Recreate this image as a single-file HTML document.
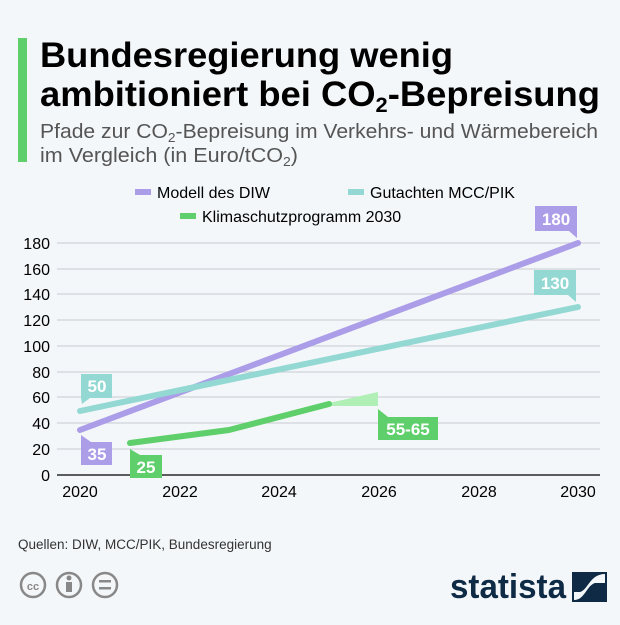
<!DOCTYPE html>
<html><head><meta charset="utf-8"><style>
html,body{margin:0;padding:0;background:#f4f7fa;}
body{width:620px;height:620px;overflow:hidden;font-family:"Liberation Sans","DejaVu Sans",sans-serif;}
</style></head><body>
<svg width="620" height="620" xmlns="http://www.w3.org/2000/svg" font-family="Liberation Sans, DejaVu Sans, sans-serif">
<rect width="620" height="620" fill="#f4f7fa"/>
<rect x="18" y="38" width="9" height="124" fill="#5ecf6a"/>
<text x="40" y="67" font-size="35" font-weight="bold" fill="#000" textLength="413" lengthAdjust="spacingAndGlyphs">Bundesregierung wenig</text>
<text x="40" y="106" font-size="35" font-weight="bold" fill="#000" textLength="560" lengthAdjust="spacingAndGlyphs">ambitioniert bei CO<tspan font-size="21" dy="6">2</tspan><tspan dy="-6">-Bepreisung</tspan></text>
<text x="40" y="138" font-size="20" fill="#555" textLength="558" lengthAdjust="spacingAndGlyphs">Pfade zur CO<tspan font-size="13" dy="4">2</tspan><tspan dy="-4">-Bepreisung im Verkehrs- und Wärmebereich</tspan></text>
<text x="40" y="162" font-size="20" fill="#555" textLength="258" lengthAdjust="spacingAndGlyphs">im Vergleich (in Euro/tCO<tspan font-size="13" dy="4">2</tspan><tspan dy="-4">)</tspan></text>
<!-- legend -->
<line x1="135" y1="192" x2="151" y2="192" stroke="#ab9de8" stroke-width="6"/>
<text x="157" y="198" font-size="16" fill="#000">Modell des DIW</text>
<line x1="348" y1="192" x2="364" y2="192" stroke="#93d8d2" stroke-width="6"/>
<text x="370" y="198" font-size="16" fill="#000">Gutachten MCC/PIK</text>
<line x1="180" y1="216" x2="196" y2="216" stroke="#5ecf6a" stroke-width="6"/>
<text x="202" y="222" font-size="16" fill="#000">Klimaschutzprogramm 2030</text>
<!-- grid -->
<g stroke="#cfd3d8" stroke-width="1.2">
<line x1="57" x2="600" y1="449" y2="449"/><line x1="57" x2="600" y1="423" y2="423"/>
<line x1="57" x2="600" y1="397" y2="397"/><line x1="57" x2="600" y1="372" y2="372"/>
<line x1="57" x2="600" y1="346" y2="346"/><line x1="57" x2="600" y1="320" y2="320"/>
<line x1="57" x2="600" y1="294" y2="294"/><line x1="57" x2="600" y1="269" y2="269"/>
<line x1="57" x2="600" y1="243" y2="243"/>
</g>
<line x1="57" x2="600" y1="475" y2="475" stroke="#000" stroke-width="1.2"/>
<g font-size="16" fill="#000" text-anchor="end">
<text x="50" y="481">0</text><text x="50" y="455">20</text><text x="50" y="429">40</text>
<text x="50" y="403">60</text><text x="50" y="378">80</text><text x="50" y="352">100</text>
<text x="50" y="326">120</text><text x="50" y="300">140</text><text x="50" y="275">160</text>
<text x="50" y="249">180</text>
</g>
<g font-size="16" fill="#000" text-anchor="middle">
<text x="80" y="497">2020</text><text x="180" y="497">2022</text><text x="279" y="497">2024</text>
<text x="379" y="497">2026</text><text x="479" y="497">2028</text><text x="578" y="497">2030</text>
</g>
<!-- series -->
<polygon points="329,403 378,392 378,406 329,406" fill="#b0efb5"/>
<line x1="80" y1="430" x2="578" y2="243" stroke="#ab9de8" stroke-width="6" stroke-linecap="round"/>
<line x1="80" y1="411" x2="578" y2="307" stroke="#93d8d2" stroke-width="6" stroke-linecap="round"/>
<polyline points="130,443 229,430 329,404" fill="none" stroke="#5ecf6a" stroke-width="6" stroke-linecap="round" stroke-linejoin="round"/>
<!-- labels -->
<g font-size="17" font-weight="bold" fill="#fff" text-anchor="middle">
<polygon points="81,374 112,374 112,398 90,398 82,404 81,398" fill="#93d8d2"/>
<text x="97" y="392">50</text>
<polygon points="81,435 91,442 112,442 112,465 81,465" fill="#ab9de8"/>
<text x="97" y="460">35</text>
<polygon points="130,449 140,455 162,455 162,478 130,478" fill="#5ecf6a"/>
<text x="146" y="473">25</text>
<polygon points="378,409 388,417 438,417 438,440 378,440" fill="#5ecf6a"/>
<text x="408" y="435">55-65</text>
<polygon points="535,206 577,206 577,238 569,231 535,231" fill="#ab9de8"/>
<text x="556" y="225">180</text>
<polygon points="534,270 576,270 576,302 568,295 534,295" fill="#93d8d2"/>
<text x="555" y="289">130</text>
</g>
<text x="18" y="549" font-size="13.5" fill="#333">Quellen: DIW, MCC/PIK, Bundesregierung</text>
<g fill="none" stroke="#888" stroke-width="2.5">
<circle cx="33" cy="585" r="12"/><circle cx="69" cy="585" r="12"/><circle cx="105" cy="585" r="12"/>
</g>
<text x="33" y="590" font-size="11" font-weight="bold" fill="#888" text-anchor="middle">cc</text>
<circle cx="69" cy="578" r="2.5" fill="#888"/><rect x="66" y="582" width="6" height="10" fill="#888"/>
<rect x="99" y="580" width="12" height="2.5" fill="#888"/><rect x="99" y="587" width="12" height="2.5" fill="#888"/>
<text x="450" y="598" font-size="34" font-weight="bold" fill="#0f2a45" textLength="116" lengthAdjust="spacingAndGlyphs">statista</text>
<rect x="572" y="572" width="35" height="30" fill="#0f2a45"/>
<path d="M574,600 C585,600 586,586 595,583 L605,583 L605,574 C590,574 588,590 580,592 L574,592 Z" fill="#f4f7fa"/>
</svg>
</body></html>
